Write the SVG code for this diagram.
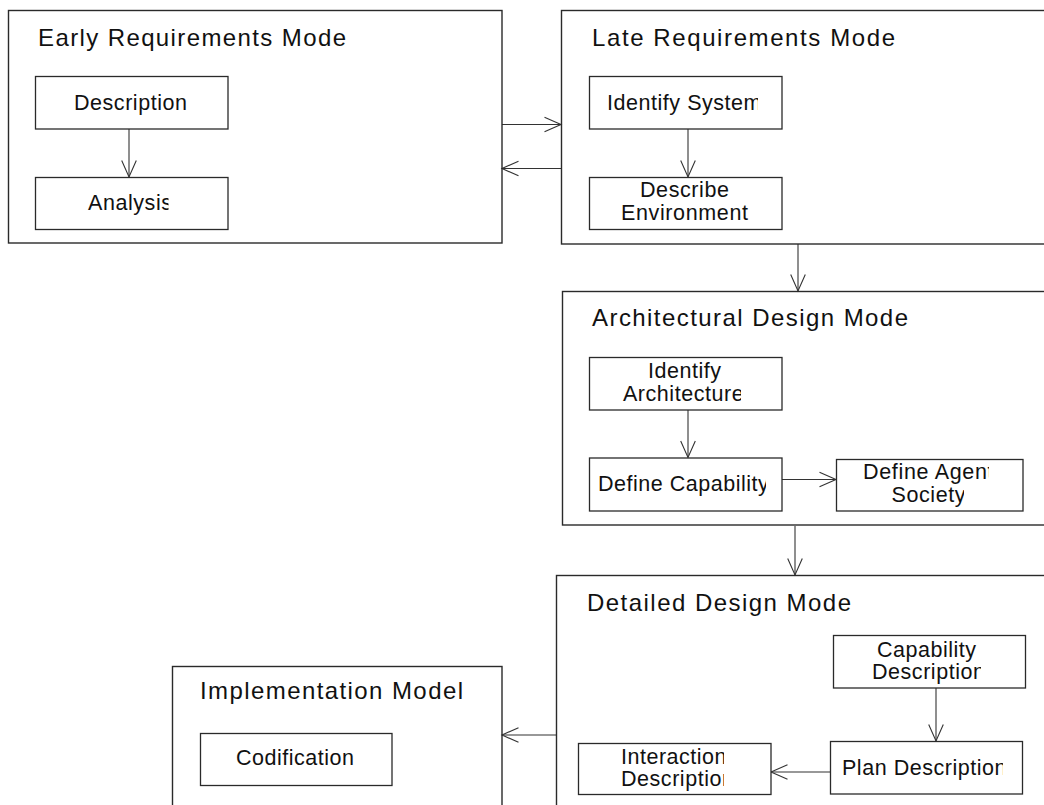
<svg xmlns="http://www.w3.org/2000/svg" width="1044" height="805" viewBox="0 0 1044 805">
<style>
.bg{fill:#ffffff}
.mode{fill:none;stroke:#2a2a2a;stroke-width:1.4}
.box{fill:#ffffff;stroke:#2a2a2a;stroke-width:1.3}
.title{font-family:"Liberation Sans",Arial,sans-serif;font-size:24px;fill:#111}
.lbl{font-family:"Liberation Sans",Arial,sans-serif;font-size:21.5px;fill:#111}
.c{fill:none;stroke:#333;stroke-width:1.1;marker-end:url(#arr)}
</style>
<defs>
<marker id="arr" markerUnits="userSpaceOnUse" markerWidth="22" markerHeight="18" viewBox="-19 -9 22 18" refX="0" refY="0" orient="auto" overflow="visible">
<path d="M-16.5,-7.3 L0,0 L-16.5,7.3" fill="none" stroke="#333" stroke-width="1.1"/>
</marker>
<clipPath id="cAna"><rect x="0" y="170" width="168.5" height="60"/></clipPath>
<clipPath id="cIdS"><rect x="589" y="76" width="169" height="53"/></clipPath>
<clipPath id="cArc"><rect x="589" y="357" width="152" height="53"/></clipPath>
<clipPath id="cCap"><rect x="589" y="458" width="177" height="53"/></clipPath>
<clipPath id="cAg"><rect x="836" y="459" width="153" height="52"/></clipPath>
<clipPath id="cSoc"><rect x="836" y="459" width="128" height="52"/></clipPath>
<clipPath id="cCD"><rect x="833" y="635" width="148" height="53"/></clipPath>
<clipPath id="cPl"><rect x="830" y="741" width="173" height="53"/></clipPath>
<clipPath id="cInt"><rect x="578" y="743" width="146" height="51"/></clipPath>
</defs>
<rect class="bg" x="0" y="0" width="1044" height="805"/>

<g id="connectors">
<line class="c" x1="129" y1="129" x2="129" y2="177"/>
<line class="c" x1="502" y1="124.5" x2="561" y2="124.5"/>
<line class="c" x1="561" y1="168.5" x2="502" y2="168.5"/>
<line class="c" x1="688" y1="129" x2="688" y2="177"/>
<line class="c" x1="798" y1="244" x2="798" y2="291"/>
<line class="c" x1="688" y1="410" x2="688" y2="457.5"/>
<line class="c" x1="782" y1="479.5" x2="836" y2="479.5"/>
<line class="c" x1="795" y1="526" x2="795" y2="575"/>
<line class="c" x1="936" y1="688" x2="936" y2="741"/>
<line class="c" x1="830" y1="772" x2="771" y2="772"/>
<line class="c" x1="556.5" y1="735" x2="502" y2="735"/>
</g>

<g id="early-requirements-mode">
<rect class="mode" x="8.5" y="10.5" width="493.5" height="232.5"/>
<text class="title" x="38" y="46" textLength="308" lengthAdjust="spacing">Early Requirements Mode</text>
</g>
<g id="description">
<rect class="box" x="35.5" y="76.5" width="192.5" height="52.5"/>
<text class="lbl" x="74" y="109.5" textLength="113" lengthAdjust="spacing">Description</text>
</g>
<g id="analysis">
<rect class="box" x="35.5" y="177.5" width="192.5" height="52"/>
<text class="lbl" x="88" y="210" textLength="84" lengthAdjust="spacing" clip-path="url(#cAna)">Analysis</text>
</g>

<g id="late-requirements-mode">
<rect class="mode" x="561.5" y="10.5" width="500" height="233.5"/>
<text class="title" x="592" y="46" textLength="303" lengthAdjust="spacing">Late Requirements Mode</text>
</g>
<g id="identify-system">
<rect class="box" x="589.5" y="76.5" width="192.5" height="52.5"/>
<text class="lbl" x="607" y="109.5" textLength="154.5" lengthAdjust="spacing" clip-path="url(#cIdS)">Identify System</text>
</g>
<g id="describe-environment">
<rect class="box" x="589.5" y="177.5" width="192.5" height="52"/>
<text class="lbl" x="640" y="197" textLength="89" lengthAdjust="spacing">Describe</text>
<text class="lbl" x="621" y="220" textLength="127" lengthAdjust="spacing">Environment</text>
</g>

<g id="architectural-design-mode">
<rect class="mode" x="562.5" y="291.5" width="500" height="233.5"/>
<text class="title" x="592" y="326" textLength="316" lengthAdjust="spacing">Architectural Design Mode</text>
</g>
<g id="identify-architecture">
<rect class="box" x="589.5" y="357.5" width="192.5" height="52.5"/>
<text class="lbl" x="648" y="377.5" textLength="73" lengthAdjust="spacing">Identify</text>
<text class="lbl" x="623" y="400.5" textLength="120.6" lengthAdjust="spacing" clip-path="url(#cArc)">Architecture</text>
</g>
<g id="define-capability">
<rect class="box" x="589.5" y="458" width="192.5" height="53"/>
<text class="lbl" x="598" y="490.5" textLength="170.8" lengthAdjust="spacing" clip-path="url(#cCap)">Define Capability</text>
</g>
<g id="define-agent-society">
<rect class="box" x="836.5" y="459.5" width="186.5" height="51.5"/>
<text class="lbl" x="863" y="479" textLength="130.6" lengthAdjust="spacing" clip-path="url(#cAg)">Define Agent</text>
<text class="lbl" x="891.5" y="501.5" textLength="74" lengthAdjust="spacing" clip-path="url(#cSoc)">Society</text>
</g>

<g id="detailed-design-mode">
<rect class="mode" x="556.5" y="575.5" width="500" height="300"/>
<text class="title" x="587" y="610.5" textLength="264" lengthAdjust="spacing">Detailed Design Mode</text>
</g>
<g id="capability-description">
<rect class="box" x="833.5" y="635.5" width="192" height="52.5"/>
<text class="lbl" x="877" y="656.5" textLength="99" lengthAdjust="spacing">Capability</text>
<text class="lbl" x="872" y="678.5" textLength="113" lengthAdjust="spacing" clip-path="url(#cCD)">Description</text>
</g>
<g id="plan-description">
<rect class="box" x="830.5" y="741.5" width="192" height="52.5"/>
<text class="lbl" x="842" y="775" textLength="164.5" lengthAdjust="spacing" clip-path="url(#cPl)">Plan Description</text>
</g>
<g id="interaction-description">
<rect class="box" x="578.5" y="743.5" width="192.5" height="51"/>
<text class="lbl" x="621" y="763.5" textLength="105.5" lengthAdjust="spacing" clip-path="url(#cInt)">Interaction</text>
<text class="lbl" x="621" y="785.5" textLength="113" lengthAdjust="spacing" clip-path="url(#cInt)">Description</text>
</g>

<g id="implementation-model">
<rect class="mode" x="172.5" y="666.5" width="329.5" height="200"/>
<text class="title" x="200" y="699" textLength="263" lengthAdjust="spacing">Implementation Model</text>
</g>
<g id="codification">
<rect class="box" x="200.5" y="733.5" width="191.5" height="52"/>
<text class="lbl" x="236" y="764.5" textLength="118" lengthAdjust="spacing">Codification</text>
</g>
</svg>
